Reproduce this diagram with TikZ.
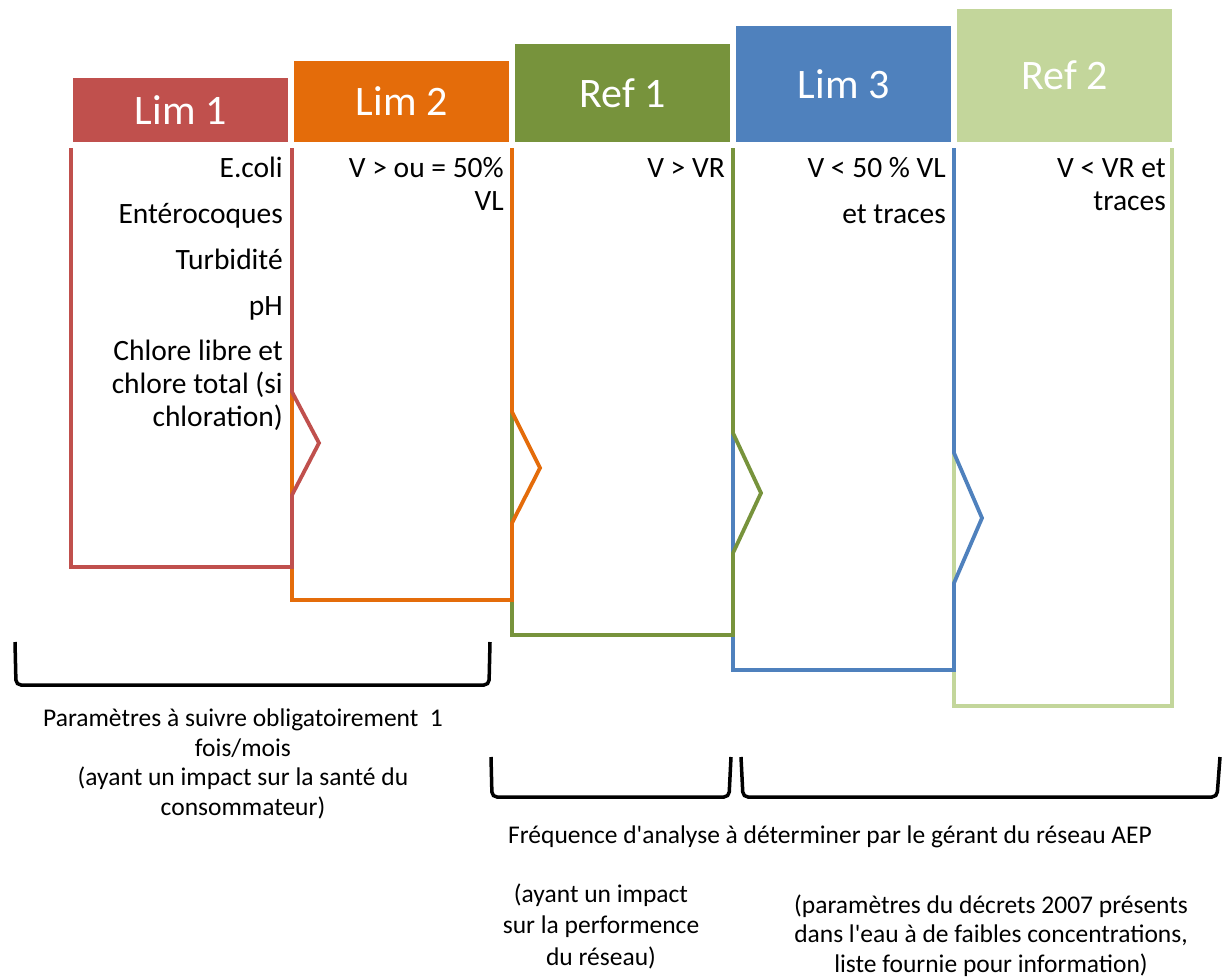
\documentclass[tikz,border=0pt]{standalone}
\usepackage{fontspec}
\setmainfont{Carlito}[Ligatures=TeXOff]
\definecolor{limred}{HTML}{C0504D}
\definecolor{limorange}{HTML}{E46C0A}
\definecolor{refgreen}{HTML}{77933C}
\definecolor{limblue}{HTML}{4F81BD}
\definecolor{refpale}{HTML}{C3D69B}
\begin{document}
\begin{tikzpicture}[x=1pt, y=-1pt,
    head/.style={anchor=south west, minimum width=215pt, inner sep=0pt, text=white, font=\fontsize{42}{50}\selectfont},
    frame/.style={line width=3.8pt, line join=miter},
    param/.style={anchor=base east, inner sep=0pt, align=right, font=\fontsize{29.5}{33}\selectfont},
    note/.style={anchor=base, inner sep=0pt, align=center, font=\fontsize{25.5}{29.5}\selectfont},
    brace/.style={line width=3.5pt, rounded corners=5pt}
]
    \useasboundingbox (0,0) rectangle (1224,980);

    % headers
    \node[head, fill=limred, minimum height=64pt] (lim1) at (73,142) {Lim 1};
    \node[head, fill=limorange, minimum height=81pt] (lim2) at (294,142) {Lim 2};
    \node[head, fill=refgreen, minimum height=98pt] (ref1) at (515,142) {Ref 1};
    \node[head, fill=limblue, minimum height=116pt] (lim3) at (736,142) {Lim 3};
    \node[head, fill=refpale, minimum height=133pt] (ref2) at (957,142) {Ref 2};

    % bodies, last one first so that each one lies over the next
    \draw[frame, refpale] (954,148) |- (1172,706) -- (1172,148);
    \draw[frame, limblue] (733,148) |- (954,670) -- (954,583) -- (982,518) -- (954,453) -- (954,148);
    \draw[frame, refgreen] (512,148) |- (733,635) -- (733,553) -- (761,493) -- (733,433) -- (733,148);
    \draw[frame, limorange] (292,148) |- (512,600) -- (512,523) -- (540,468) -- (512,412) -- (512,148);
    \draw[frame, limred] (71,148) |- (292,567) -- (292,495) -- (319,443) -- (292,392) -- (292,148);

    \node[param] (ecoli) at (283,177) {E.coli};
    \node[param] (entero) at (283,223) {Entérocoques};
    \node[param] (turb) at (283,269) {Turbidité};
    \node[param] (ph) at (283,315) {pH};
    \node[param] (chlore) at (283,426) {Chlore libre et\\chlore total (si\\chloration)};
    \node[param] (v50) at (504,210) {V > ou = 50\%\\VL};
    \node[param] (vvr) at (725,177) {V > VR};
    \node[param] (vlow) at (946,177) {V < 50 \% VL};
    \node[param] (vlowb) at (946,223) {et traces};
    \node[param] (vtr) at (1166,210) {V < VR et\\traces};

    % brackets
    \draw[brace] (15,642) -- (16,685) -- (489,685) -- (490,642);
    \draw[brace] (491,757) -- (492,797) -- (729,797) -- (731,757);
    \draw[brace] (741,757) -- (743,797) -- (1217,797) -- (1220,757);

    \node[note] (mois) at (243,815) {Paramètres à suivre obligatoirement\ \ 1\\fois/mois\\(ayant un impact sur la santé du\\consommateur)};
    \node[note] (freq) at (830,843) {Fréquence d'analyse à déterminer par le gérant du réseau AEP};
    \node[note, font=\fontsize{25.5}{31.5}\selectfont] (perf) at (601,965) {(ayant un impact\\sur la performence\\du réseau)};
    \node[note] (decret) at (991,972) {(paramètres du décrets 2007 présents\\dans l'eau à de faibles concentrations,\\liste fournie pour information)};
\end{tikzpicture}
\end{document}
